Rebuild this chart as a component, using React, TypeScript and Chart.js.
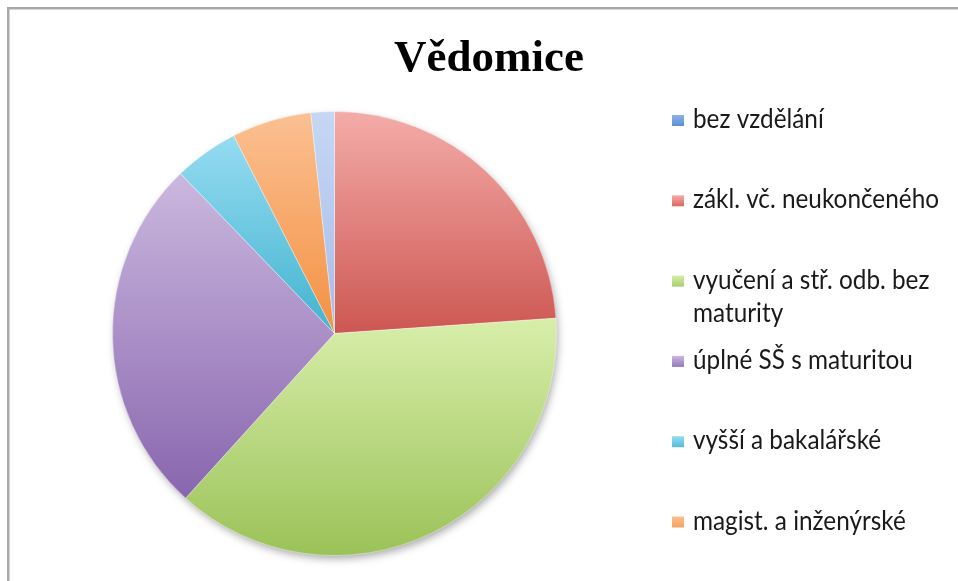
import React, { useEffect, useRef } from "react";
import { Chart, registerables } from "chart.js";

Chart.register(...registerables);

const chartTitle = "Vědomice";
const categories = [
  "bez vzdělání",
  "zákl. vč. neukončeného",
  "vyučení a stř. odb. bez maturity",
  "úplné SŠ s maturitou",
  "vyšší a bakalářské",
  "magist. a inženýrské",
  "nezjištěno",
];
const legendLines = [
  ["bez vzdělání"],
  ["zákl. vč. neukončeného"],
  ["vyučení a stř. odb. bez", "maturity"],
  ["úplné SŠ s maturitou"],
  ["vyšší a bakalářské"],
  ["magist. a inženýrské"],
  ["nezjištěno"],
];
const values = [0, 23.9, 37.8, 26.1, 4.7, 5.8, 1.7];

const lightColors = ["#8fb2e6", "#f4aca9", "#d8eeaa", "#cbb8df", "#95dcf1", "#fbc092", "#c6d7f5"];
const darkColors = ["#4f81bd", "#cd5752", "#9bc258", "#8866ae", "#43b3d0", "#f39142", "#a6bdea"];
const markerColors = ["#5b8fd6", "#de6561", "#a9cd70", "#9479bd", "#53bddb", "#f6a35d", "#b3c9ef"];

function sliceGradient(ctx: any) {
  const chart = ctx.chart;
  const area = chart.chartArea;
  const i = ctx.dataIndex;
  if (!area || i === undefined) return darkColors[i ?? 0];
  const data: number[] = ctx.dataset.data;
  const total = data.reduce((a, b) => a + b, 0);
  let before = 0;
  for (let k = 0; k < i; k++) before += data[k];
  const a0 = -Math.PI / 2 + (before / total) * 2 * Math.PI;
  const a1 = a0 + (data[i] / total) * 2 * Math.PI;
  const cx = (area.left + area.right) / 2;
  const cy = (area.top + area.bottom) / 2;
  const r = Math.min(area.right - area.left, area.bottom - area.top) / 2;
  const ys = [cy, cy + r * Math.sin(a0), cy + r * Math.sin(a1)];
  for (const k of [-Math.PI / 2, Math.PI / 2, (3 * Math.PI) / 2]) {
    if (k >= a0 && k <= a1) ys.push(cy + r * Math.sin(k));
  }
  const top = Math.min(...ys);
  const bottom = Math.max(...ys);
  if (bottom - top < 1) return darkColors[i];
  const g = chart.ctx.createLinearGradient(0, top, 0, bottom);
  g.addColorStop(0, lightColors[i]);
  g.addColorStop(1, darkColors[i]);
  return g;
}

const decorPlugin = {
  id: "decor",
  beforeDraw(chart: any) {
    const c = chart.ctx;
    c.save();
    c.fillStyle = "#ffffff";
    c.fillRect(0, 0, chart.width, chart.height);
    c.fillStyle = "#a9a9a9";
    c.fillRect(7, 7, chart.width - 7, 2.5);
    c.fillRect(7, 7, 2.5, chart.height - 7);
    c.restore();
  },
  beforeDatasetsDraw(chart: any) {
    const meta = chart.getDatasetMeta(0);
    const el = meta.data.find((d: any) => d && d.outerRadius);
    if (!el) return;
    const c = chart.ctx;
    c.save();
    c.shadowColor = "rgba(0,0,0,0.35)";
    c.shadowBlur = 9;
    c.shadowOffsetX = 2;
    c.shadowOffsetY = 4;
    c.fillStyle = "#ffffff";
    c.beginPath();
    c.arc(el.x, el.y, el.outerRadius - 1, 0, Math.PI * 2);
    c.fill();
    c.restore();
  },
  afterDraw(chart: any) {
    const c = chart.ctx;
    c.save();
    // title
    c.fillStyle = "#000000";
    c.font = "bold 45px 'Liberation Serif'";
    c.textAlign = "center";
    c.textBaseline = "alphabetic";
    c.fillText(chartTitle, 489, 71);
    // legend
    const family = "Lato";
    const fs = 26;
    c.font = `${fs}px ${family}`;
    const w = c.measureText(legendLines[1][0]).width;
    const sx = Math.min(1, 246 / w);
    c.textAlign = "left";
    for (let i = 0; i < categories.length; i++) {
      const base = 128 + 80.3 * i;
      const g = c.createLinearGradient(0, base - 13, 0, base - 2);
      g.addColorStop(0, lightColors[i]);
      g.addColorStop(1, markerColors[i]);
      c.fillStyle = g;
      c.fillRect(672, base - 13, 12, 11);
      c.fillStyle = "#1a1a1a";
      legendLines[i].forEach((line, j) => {
        c.save();
        c.translate(693, base + j * 33.5);
        c.scale(sx, 1);
        c.fillText(line, 0, 0);
        c.restore();
      });
    }
    c.restore();
  },
};

export default function App() {
  const ref = useRef<HTMLCanvasElement | null>(null);
  useEffect(() => {
    if (!ref.current) return;
    const chart = new Chart(ref.current, {
      type: "pie",
      data: {
        labels: categories,
        datasets: [
          {
            data: values,
            backgroundColor: sliceGradient as any,
            borderColor: "rgba(255,255,255,0.35)",
            borderWidth: 1,
          },
        ],
      },
      options: {
        responsive: false,
        animation: false,
        layout: { padding: { left: 112, top: 111, right: 401, bottom: 25 } },
        plugins: {
          legend: { display: false },
          title: { display: false },
          tooltip: { enabled: false },
        },
      },
      plugins: [decorPlugin],
    });
    return () => chart.destroy();
  }, []);
  return (
    <div style={{ position: "fixed", left: 0, top: 0, width: 958, height: 581, background: "#fff" }}>
      <canvas ref={ref} width={958} height={581} />
    </div>
  );
}
